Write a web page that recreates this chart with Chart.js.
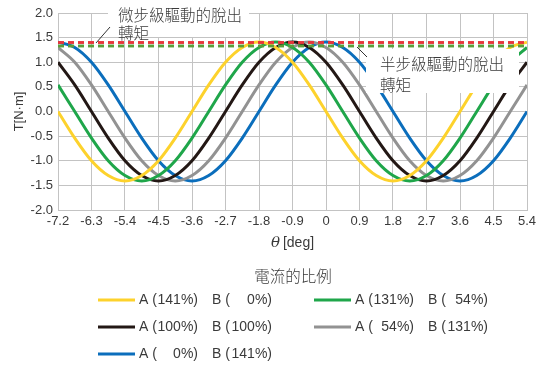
<!DOCTYPE html>
<html>
<head>
<meta charset="utf-8">
<script src="https://cdn.jsdelivr.net/npm/chart.js@4.4.0/dist/chart.umd.min.js"></script>
<style>
  html, body { margin: 0; padding: 0; background: #fff; }
  #wrap { width: 544px; height: 367px; }
</style>
</head>
<body>
<div id="wrap"><canvas id="c" width="544" height="367"></canvas></div>
<script>
// Rotor angle θ [deg]
const angles = [-7.2, -6.75, -6.3, -5.85, -5.4, -4.95, -4.5, -4.05, -3.6, -3.15, -2.7, -2.25, -1.8, -1.35, -0.9, -0.45,
                0, 0.45, 0.9, 1.35, 1.8, 2.25, 2.7, 3.15, 3.6, 4.05, 4.5, 4.95, 5.4];

// Torque T [N·m] for each phase-current ratio
const torqueA141B0 = [0, -0.54, -1.00, -1.30, -1.41, -1.30, -1.00, -0.54, 0, 0.54, 1.00, 1.30, 1.41, 1.30, 1.00, 0.54,
                      0, -0.54, -1.00, -1.30, -1.41, -1.30, -1.00, -0.54, 0, 0.54, 1.00, 1.30, 1.41];
const torqueA131B54 = [0.54, 0, -0.54, -1.00, -1.30, -1.41, -1.30, -1.00, -0.54, 0, 0.54, 1.00, 1.30, 1.41, 1.30, 1.00,
                       0.54, 0, -0.54, -1.00, -1.30, -1.41, -1.30, -1.00, -0.54, 0, 0.54, 1.00, 1.30];
const torqueA100B100 = [1.00, 0.54, 0, -0.54, -1.00, -1.30, -1.41, -1.30, -1.00, -0.54, 0, 0.54, 1.00, 1.30, 1.41, 1.30,
                        1.00, 0.54, 0, -0.54, -1.00, -1.30, -1.41, -1.30, -1.00, -0.54, 0, 0.54, 1.00];
const torqueA54B131 = [1.30, 1.00, 0.54, 0, -0.54, -1.00, -1.30, -1.41, -1.30, -1.00, -0.54, 0, 0.54, 1.00, 1.30, 1.41,
                       1.30, 1.00, 0.54, 0, -0.54, -1.00, -1.30, -1.41, -1.30, -1.00, -0.54, 0, 0.54];
const torqueA0B141 = [1.41, 1.30, 1.00, 0.54, 0, -0.54, -1.00, -1.30, -1.41, -1.30, -1.00, -0.54, 0, 0.54, 1.00, 1.30,
                      1.41, 1.30, 1.00, 0.54, 0, -0.54, -1.00, -1.30, -1.41, -1.30, -1.00, -0.54, 0];

// Pull-out torque levels
const pulloutMicroStep = 1.40;
const pulloutHalfStep = 1.33;

// Legend entries: phase A / phase B current ratios
const currentA = ['141%', '131%', '100%', '54%', '0%'];
const currentB = ['0%', '54%', '100%', '131%', '141%'];

// Axis tick labels
const xTickLabels = ['-7.2', '-6.3', '-5.4', '-4.5', '-3.6', '-2.7', '-1.8', '-0.9', '0', '0.9', '1.8', '2.7', '3.6', '4.5', '5.4'];
const yTickLabels = ['-2.0', '-1.5', '-1.0', '-0.5', '0.0', '0.5', '1.0', '1.5', '2.0'];

const COLORS = ['#fdd22c', '#1fa64a', '#231815', '#929292', '#0b6ebc'];
const seriesList = [torqueA141B0, torqueA131B54, torqueA100B100, torqueA54B131, torqueA0B141];

const LATIN = '"Liberation Sans", Arial, sans-serif';
const CJK = '"Noto Sans CJK TC", "Noto Sans CJK SC", sans-serif';
const GRID = '#c3c3c3';
const TEXT = '#3a3a3a';

const toPoints = (ys) => ys.map((y, i) => ({ x: angles[i], y }));
const xRange = [angles[0], angles[angles.length - 1]];

const curveSets = seriesList.map((ys, i) => ({
  label: 'A (' + currentA[i] + ') B (' + currentB[i] + ')',
  data: toPoints(ys),
  borderColor: COLORS[i],
  borderWidth: 3,
  pointRadius: 0,
  fill: false,
  cubicInterpolationMode: 'monotone',
  order: 2
}));

const dashSets = [
  { value: pulloutHalfStep, color: '#5a9e3a' },
  { value: pulloutMicroStep, color: '#e8343a' }
].map(d => ({
  label: 'pullout',
  data: xRange.map(x => ({ x, y: d.value })),
  borderColor: d.color,
  borderWidth: 2.5,
  borderDash: [6, 4],
  pointRadius: 0,
  fill: false,
  order: 1
}));

// Draws annotation boxes, axis title θ and the legend below the plot
const overlay = {
  id: 'overlay',
  afterDatasetsDraw(chart) {
    const ctx = chart.ctx;
    const area = chart.chartArea;
    ctx.save();

    // white label backgrounds
    ctx.fillStyle = '#ffffff';
    ctx.fillRect(108, 0, 141, 37);
    ctx.fillRect(366, 49, 153, 44);

    // re-draw pull-out dashed lines on top of the label backgrounds
    chart.getSortedVisibleDatasetMetas().forEach(m => {
      if (m.order === 1) m.controller.draw();
    });

    // leader lines
    ctx.strokeStyle = '#333';
    ctx.lineWidth = 1;
    ctx.beginPath();
    ctx.moveTo(96, 43); ctx.lineTo(110, 27);
    ctx.moveTo(357, 47); ctx.lineTo(367, 57);
    ctx.stroke();

    // annotation text
    ctx.fillStyle = TEXT;
    ctx.font = '300 15.5px ' + CJK;
    ctx.textBaseline = 'middle';
    ctx.textAlign = 'left';
    ctx.fillText('微步級驅動的脫出', 118, 15);
    ctx.fillText('轉矩', 118, 33);
    ctx.fillText('半步級驅動的脫出', 380, 64);
    ctx.fillText('轉矩', 380, 85);

    // x axis title: θ [deg]
    const cx = (area.left + area.right) / 2;
    ctx.font = 'italic 15px "DejaVu Serif", serif';
    const thW = ctx.measureText('θ').width;
    ctx.font = '14px ' + LATIN;
    const degW = ctx.measureText('[deg]').width;
    const gap = 3;
    let x0 = cx - (thW + gap + degW) / 2;
    ctx.font = 'italic 15px "DejaVu Serif", serif';
    ctx.fillText('θ', x0, 243);
    ctx.font = '14px ' + LATIN;
    ctx.fillText('[deg]', x0 + thW + gap, 243);

    // legend
    ctx.font = '300 15.5px ' + CJK;
    ctx.textAlign = 'center';
    ctx.fillText('電流的比例', 293, 276);

    const cols = [
      { lx: 98, ax: 139, aEnd: 198, bx: 212, bEnd: 272 },
      { lx: 314, ax: 355, aEnd: 414, bx: 428, bEnd: 488 }
    ];
    const rows = [300, 327, 354];
    ctx.font = '14px ' + LATIN;
    seriesList.forEach((_, i) => {
      const c = cols[i % 2];
      const y = rows[Math.floor(i / 2)];
      ctx.strokeStyle = COLORS[i];
      ctx.lineWidth = 3;
      ctx.beginPath();
      ctx.moveTo(c.lx, y); ctx.lineTo(c.lx + 37, y);
      ctx.stroke();
      ctx.fillStyle = TEXT;
      ctx.textAlign = 'left';
      ctx.fillText('A (', c.ax, y);
      ctx.fillText('B (', c.bx, y);
      ctx.textAlign = 'right';
      ctx.fillText(currentA[i] + ')', c.aEnd, y);
      ctx.fillText(currentB[i] + ')', c.bEnd, y);
    });
    ctx.restore();
  }
};

new Chart(document.getElementById('c'), {
  type: 'line',
  data: { datasets: [...dashSets, ...curveSets] },
  plugins: [overlay],
  options: {
    responsive: false,
    animation: false,
    devicePixelRatio: 1,
    layout: { padding: { left: 0, right: 17, top: 13, bottom: 115 } },
    plugins: { legend: { display: false }, tooltip: { enabled: false } },
    scales: {
      x: {
        type: 'linear',
        min: xRange[0],
        max: xRange[1],
        afterBuildTicks: s => { s.ticks = xTickLabels.map(t => ({ value: Number(t) })); },
        afterFit: s => { s.height = 42; },
        ticks: {
          callback: (v, i) => xTickLabels[i],
          font: { family: LATIN, size: 13 },
          color: TEXT,
          padding: 4,
          maxRotation: 0,
          autoSkip: false
        },
        grid: { color: GRID, lineWidth: 1, drawTicks: false },
        border: { color: GRID }
      },
      y: {
        type: 'linear',
        min: -2,
        max: 2,
        afterBuildTicks: s => { s.ticks = yTickLabels.map(t => ({ value: Number(t) })); },
        afterFit: s => { s.width = 58; },
        ticks: {
          callback: (v, i) => yTickLabels[i],
          font: { family: LATIN, size: 13 },
          color: TEXT,
          padding: 5
        },
        grid: { color: GRID, lineWidth: 1, drawTicks: false },
        border: { color: GRID },
        title: {
          display: true,
          text: 'T[N·m]',
          font: { family: LATIN, size: 13 },
          color: TEXT,
          padding: { top: 12, bottom: 0 }
        }
      }
    }
  }
});
</script>
</body>
</html>
